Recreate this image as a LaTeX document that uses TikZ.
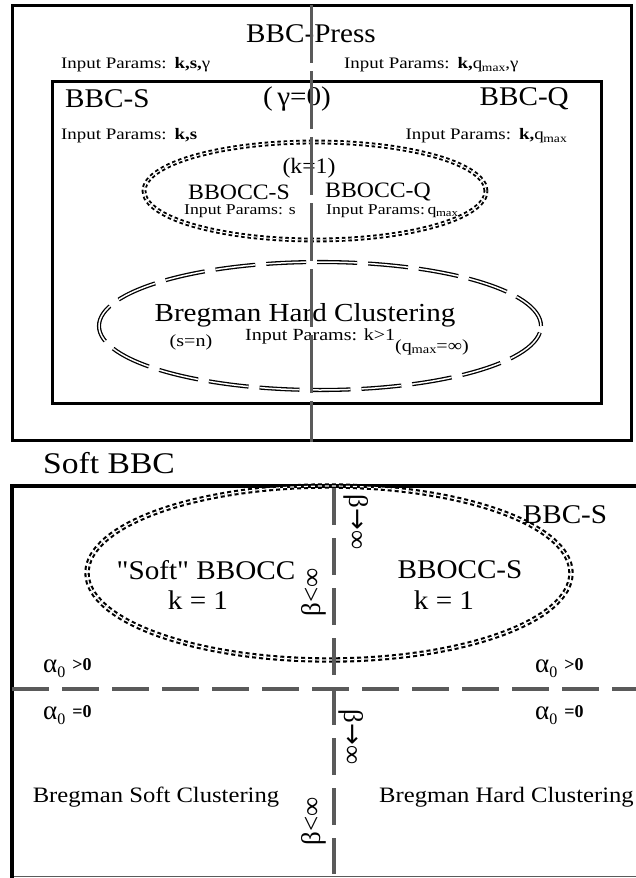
\documentclass[tikz,border=0pt]{standalone}
\usepackage{fontspec}
\setmainfont{Liberation Serif}
\newfontfamily\wideA[FakeStretch=1.08]{Liberation Serif}
\newfontfamily\wideB[FakeStretch=1.18]{Liberation Serif}
\newfontfamily\wideC[FakeStretch=1.12]{Liberation Serif}
\newfontfamily\arrfont{DejaVu Sans}
\newcommand{\fs}[1]{\fontsize{#1}{#1}\selectfont}
\newcommand{\qmx}{q\kern-0.3pt\raisebox{-0.3ex}{\scalebox{0.72}{max}}}
\newcommand{\alp}{{\fs{27}α\raisebox{-0.35ex}{\fs{16}0}}}
\newcommand{\toinf}{β{\arrfont\fs{26}→}∞}
\definecolor{lgray}{HTML}{5A5A5A}
\begin{document}
\begin{tikzpicture}[x=1pt,y=-1pt,
  big/.style={font=\wideA\fs{27},inner sep=0pt},
  huge/.style={font=\wideC\fs{30},inner sep=0pt},
  mid/.style={font=\wideA\fs{22},inner sep=0pt},
  small/.style={font=\wideB\fs{16},inner sep=0pt},
  tinyt/.style={font=\wideB\fs{15},inner sep=0pt},
  smallr/.style={font=\wideB\fs{17},inner sep=0pt},
  hard/.style={font=\wideC\fs{26},inner sep=0pt},
  bsc/.style={font=\wideC\fs{22},inner sep=0pt},
  rot/.style={font=\fs{27},inner sep=0pt},
  alab/.style={inner sep=0pt},
  boxline/.style={line width=3pt,black},
  gline/.style={line width=3pt,lgray,dash pattern=on 58pt off 8pt},
  gline2/.style={line width=3.8pt,lgray,dash pattern=on 37pt off 13pt},
  dotell/.style={double,double distance=1pt,line width=1.9pt,dash pattern=on 3.5pt off 2.8pt},
  dotell2/.style={double,double distance=1.2pt,line width=2.1pt,dash pattern=on 4pt off 3pt},
  dblell/.style={double,double distance=1.5pt,line width=1.3pt,dash pattern=on 40pt off 11pt}]
\useasboundingbox (0,0) rectangle (635,878);
\fill[white] (0,0) rectangle (635,878);

% ---------- top panel ----------
\draw[boxline] (12,5) rectangle (631,440);
\draw[boxline] (52,81) rectangle (601,403);

\node[big] (press) at (311,34) {BBC-Press};
\node[small,anchor=west] (ip1) at (61,65) {Input Params:\hspace{8pt}\textbf{k,s,}γ};
\node[small,anchor=west] (ip2) at (344,65) {Input Params:\hspace{8pt}\textbf{k,}\qmx,γ};
\node[big,anchor=west] (bbcs) at (65,99) {BBC-S};
\node[big] (gam) at (297,99) {(\,γ=0)};
\node[big,anchor=east] (bbcq) at (569,99) {BBC-Q};
\node[small,anchor=west] (ip3) at (61,136) {Input Params:\hspace{8pt}\textbf{k,s}};
\node[small,anchor=east] (ip4) at (567,136) {Input Params:\hspace{8pt}\textbf{k,}\qmx};

\draw[dotell] (315,191) ellipse [x radius=171pt, y radius=49pt];
\node[mid] (k1) at (309,168) {(k=1)};
\node[mid] (boccs) at (239,192) {BBOCC-S};
\node[mid] (boccq) at (378,192) {BBOCC-Q};
\node[tinyt] (ip5) at (240,211) {Input Params: s};
\node[tinyt,anchor=west] (ip6) at (326,211) {Input Params:\,\qmx};

\draw[dblell] (320,326) ellipse [x radius=221pt, y radius=64pt];
\node[hard] (bhc) at (305,315) {Bregman Hard Clustering};
\node[smallr,anchor=west] (ip7) at (245,336) {Input Params: k>1};
\node[smallr] (sn) at (191,342) {(s=n)};
\node[smallr] (qinf) at (432,347) {(\qmx=∞)};

\draw[gline] (311,5) -- (311,442);

% ---------- bottom panel ----------
\node[huge,anchor=west] (soft) at (43,463) {Soft BBC};
\draw[line width=1.5pt,lgray] (12,876.5) -- (640,876.5);
\draw[line width=3.5pt,black] (640,486) -- (12,486) -- (12,878);

\draw[dotell2] (329,573) ellipse [x radius=242pt, y radius=87pt];
\node[big] (bbcs2) at (565,515) {BBC-S};
\node[big] (sbocc) at (206,570) {"Soft" BBOCC};
\node[big] (k1a) at (198,600) {k = 1};
\node[big] (boccs2) at (460,570) {BBOCC-S};
\node[big] (k1b) at (444,600) {k = 1};

\draw[gline2] (334,488) -- (334,874);
\draw[gline2] (12,689) -- (640,689);

\node[rot,rotate=-90] (b1) at (356,522) {\toinf};
\node[rot,rotate=90] (b2) at (314,592) {β<∞};
\node[rot,rotate=-90] (b3) at (351,737) {\toinf};
\node[rot,rotate=90] (b4) at (314,821) {β<∞};

\node[alab,anchor=west] (a1) at (43,668) {\alp\hspace{7pt}\raisebox{0.4ex}{\fs{18}\bfseries >0}};
\node[alab,anchor=west] (a2) at (535,668) {\alp\hspace{7pt}\raisebox{0.4ex}{\fs{18}\bfseries >0}};
\node[alab,anchor=west] (a3) at (43,715) {\alp\hspace{7pt}\raisebox{0.4ex}{\fs{18}\bfseries =0}};
\node[alab,anchor=west] (a4) at (535,715) {\alp\hspace{7pt}\raisebox{0.4ex}{\fs{18}\bfseries =0}};

\node[bsc] (bsoft) at (156,797) {Bregman Soft Clustering};
\node[bsc,anchor=west] (bhard) at (379,797) {Bregman Hard Clustering};
\end{tikzpicture}
\end{document}
